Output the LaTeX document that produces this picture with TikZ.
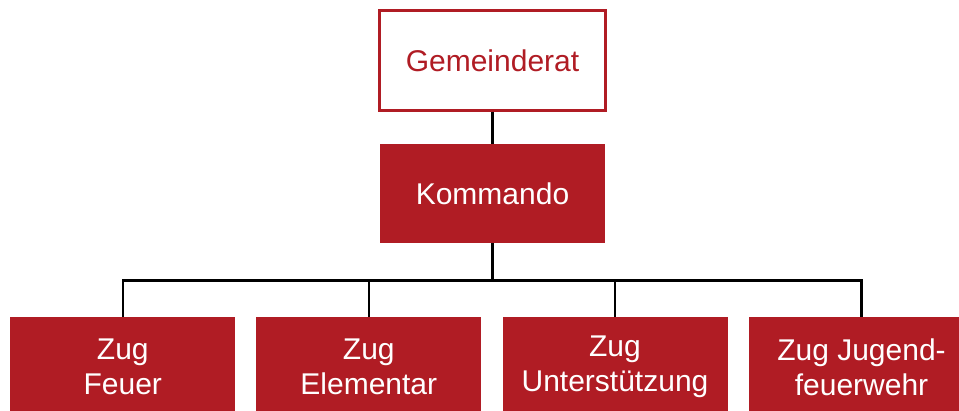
\documentclass[tikz,border=0pt]{standalone}
\usepackage{fontspec}
\setmainfont{Liberation Sans}
\definecolor{fwred}{RGB}{176,28,36}
\begin{document}
\begin{tikzpicture}[x=1pt,y=1pt,
  boxbase/.style={rectangle, inner sep=0pt, align=center,
    font=\fontsize{30}{35}\selectfont},
  whitebox/.style={boxbase, draw=fwred, line width=3pt, fill=white, text=fwred,
    minimum width=226pt, minimum height=100pt},
  redbox/.style={boxbase, fill=fwred, text=white,
    minimum width=225pt, minimum height=100pt},
  conn/.style={draw=black, line width=2.6pt}]
\useasboundingbox (0,0) rectangle (959,-411);
\node[whitebox] (g) at (492.5,-60.5) {Gemeinderat};
\node[redbox, minimum height=99pt] (k) at (492.5,-193.5) {Kommando};
\node[redbox] (b1) at (122.8,-367) {Zug\\Feuer};
\node[redbox] (b2) at (368.8,-367) {Zug\\Elementar};
\node[redbox] (b3) at (615,-367) {Zug\\Unterstützung};
\node[redbox] (b4) at (861.5,-367) {Zug Jugend-\\feuerwehr};
\coordinate (bus) at (492.5,-280.5);
\draw[conn] (g.south) -- (k.north);
\draw[conn] (k.south) -- (bus);
\draw[conn] (bus) -| (b1.north);
\draw[conn] (bus) -| (b2.north);
\draw[conn] (bus) -| (b3.north);
\draw[conn] (bus) -| (b4.north);
\end{tikzpicture}
\end{document}
